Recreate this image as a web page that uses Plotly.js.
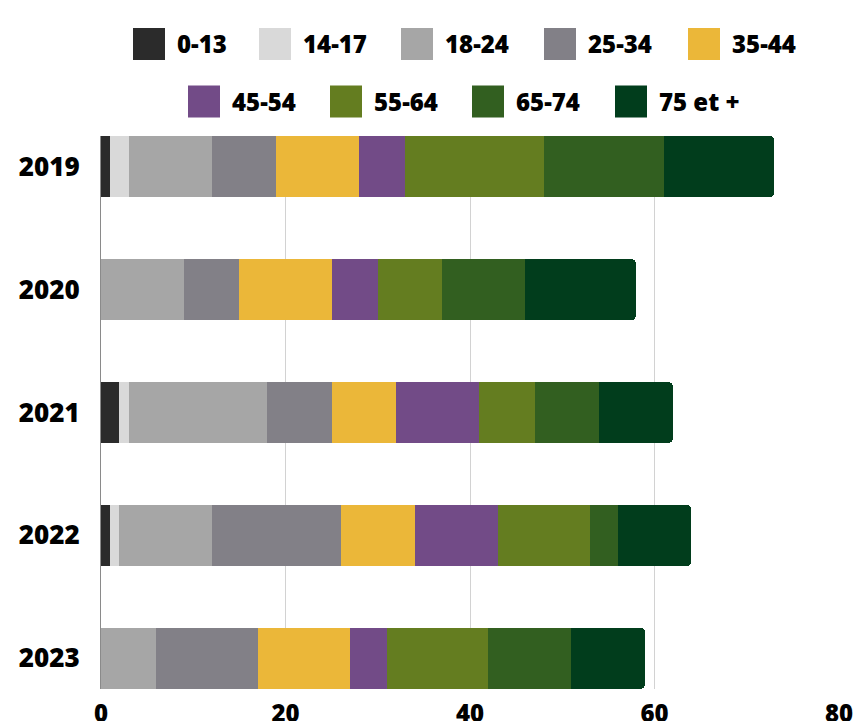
<!DOCTYPE html>
<html>
<head>
<meta charset="utf-8">
<script src="https://cdn.plot.ly/plotly-3.0.1.min.js"></script>
<style>
html,body{margin:0;padding:0;background:#fff;}
#chart{width:854px;height:721px;}
</style>
</head>
<body>
<div id="chart"></div>
<script>
// ---- Data ----
const years = ['2019', '2020', '2021', '2022', '2023'];
const ageGroups = ['0-13', '14-17', '18-24', '25-34', '35-44', '45-54', '55-64', '65-74', '75 et +'];
const v0_13  = [1, 0, 2, 1, 0];
const v14_17 = [2, 0, 1, 1, 0];
const v18_24 = [9, 9, 15, 10, 6];
const v25_34 = [7, 6, 7, 14, 11];
const v35_44 = [9, 10, 7, 8, 10];
const v45_54 = [5, 5, 9, 9, 4];
const v55_64 = [15, 7, 6, 10, 11];
const v65_74 = [13, 9, 7, 3, 9];
const v75    = [12, 12, 8, 8, 8];
const xTicks = [0, 20, 40, 60, 80];

// ---- Styles ----
const seriesValues = [v0_13, v14_17, v18_24, v25_34, v35_44, v45_54, v55_64, v65_74, v75];
const colors = ['#2b2b2b', '#d9d9d9', '#a6a6a6', '#828087', '#ebb739', '#724b87', '#647d20', '#325f20', '#013d1c'];
const FONT = '"Open Sans", "Noto Sans", sans-serif';

const traces = ageGroups.map((name, i) => ({
  type: 'bar',
  orientation: 'h',
  name: name,
  y: years,
  x: seriesValues[i],
  marker: {color: colors[i], line: {width: 0}},
  showlegend: false,
  hoverinfo: 'x+name'
}));

// Manual legend (pixel layout converted to paper coords)
const L = 101, R = 839, T = 136, B = 689;
const px = p => (p - L) / (R - L);
const py = p => (B - p) / (B - T);
const legendRows = [
  {y: 44, lefts: [133, 259, 401, 544, 688], idx: [0, 1, 2, 3, 4]},
  {y: 101.5, lefts: [188, 330, 472, 615], idx: [5, 6, 7, 8]}
];
const shapes = [];
const annotations = [];
const SW = 32;
legendRows.forEach(row => {
  row.idx.forEach((k, j) => {
    const x0 = row.lefts[j];
    shapes.push({
      type: 'rect', xref: 'paper', yref: 'paper',
      x0: px(x0), x1: px(x0 + SW), y0: py(row.y + SW / 2), y1: py(row.y - SW / 2),
      fillcolor: colors[k], line: {width: 0}
    });
    annotations.push({
      xref: 'paper', yref: 'paper', x: px(x0 + 42), y: py(row.y),
      xanchor: 'left', yanchor: 'middle', showarrow: false,
      text: ageGroups[k],
      font: {family: FONT, size: 24, color: '#000', weight: 800}
    });
  });
});

const layout = {
  width: 854, height: 721,
  margin: {l: L, r: 854 - R, t: T, b: 721 - B},
  paper_bgcolor: '#fff', plot_bgcolor: '#fff',
  barmode: 'stack',
  bargap: 0.5,
  barcornerradius: 5,
  showlegend: false,
  xaxis: {
    range: [0, 80],
    tickvals: xTicks,
    ticktext: xTicks.map(String),
    showgrid: true, gridcolor: '#d2d2d2', gridwidth: 1,
    zeroline: false, showline: false,
    ticks: '',
    ticklabelstandoff: 8,
    tickfont: {family: FONT, size: 24, color: '#000', weight: 800},
    fixedrange: true
  },
  yaxis: {
    type: 'category',
    categoryorder: 'array', categoryarray: years,
    range: [4.25, -0.25],
    showgrid: false, zeroline: false,
    showline: true, linecolor: '#8a8a8a', linewidth: 1,
    ticks: '',
    ticklabelstandoff: 15,
    tickfont: {family: FONT, size: 26, color: '#000', weight: 800},
    fixedrange: true
  },
  shapes: shapes,
  annotations: annotations
};

Plotly.newPlot('chart', traces, layout, {displayModeBar: false, staticPlot: true});
</script>
</body>
</html>
